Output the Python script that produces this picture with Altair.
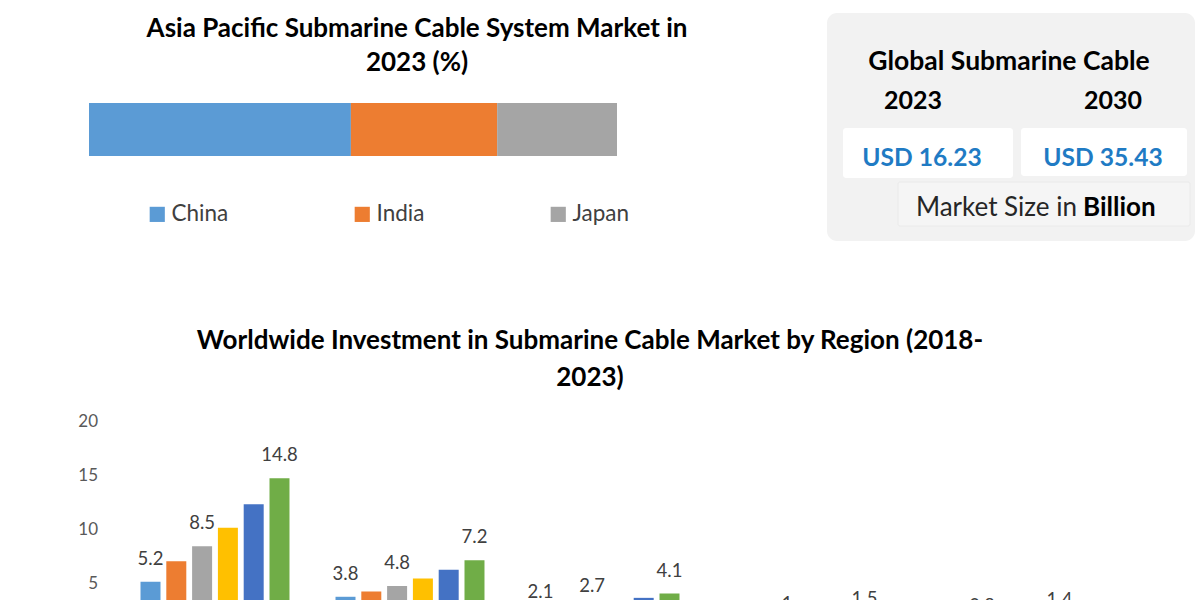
import altair as alt
import pandas as pd

FONT = "Lato"

# ---------------- data ----------------
apac_countries = ["China", "India", "Japan"]
apac_share = [49.6, 27.7, 22.7]

box_years = ["2023", "2030"]
box_values = [16.23, 35.43]

regions = ["Asia Pacific", "North America", "Europe", "Middle East & Africa", "Latin America"]
years = ["2018", "2019", "2020", "2021", "2022", "2023"]
inv_asia_pacific = [5.2, 7.1, 8.5, 10.2, 12.4, 14.8]
inv_north_america = [3.8, 4.3, 4.8, 5.5, 6.3, 7.2]
inv_europe = [2.1, 2.4, 2.7, 3.2, 3.7, 4.1]
inv_mea = [0.6, 0.8, 1.0, 1.1, 1.3, 1.5]
inv_latam = [0.6, 0.7, 0.8, 1.0, 1.2, 1.4]
labeled_years = ["2018", "2020", "2023"]
y_ticks = [0, 5, 10, 15, 20]

year_colors = ["#5B9BD5", "#ED7D31", "#A5A5A5", "#FFC000", "#4472C4", "#70AD47"]
country_colors = ["#5B9BD5", "#ED7D31", "#A5A5A5"]

# ---------------- tables ----------------
share_df = pd.DataFrame({"country": apac_countries, "share": apac_share,
                         "idx": list(range(len(apac_countries)))})

rows = []
for reg, vals in zip(regions, [inv_asia_pacific, inv_north_america, inv_europe, inv_mea, inv_latam]):
    for yr, v in zip(years, vals):
        rows.append({"region": reg, "year": yr, "value": v})
inv_df = pd.DataFrame(rows)
tick_df = pd.DataFrame({"tick": y_ticks})


def txt(s, x, y, size, weight="normal", color="#000000", align="center"):
    return alt.Chart(alt.Data(values=[{"t": s}])).mark_text(
        font=FONT, fontSize=size, fontWeight=weight, color=color,
        align=align, baseline="alphabetic"
    ).encode(x=alt.value(x), y=alt.value(y), text="t:N")


def box(x, x2, y, y2, fill, radius=0, stroke=None):
    kw = dict(fill=fill, cornerRadius=radius)
    if stroke:
        kw.update(stroke=stroke, strokeWidth=1)
    return alt.Chart(alt.Data(values=[{"a": 1}])).mark_rect(**kw).encode(
        x=alt.value(x), x2=alt.value(x2), y=alt.value(y), y2=alt.value(y2))


# ---------------- top-left stacked bar ----------------
top_bar = alt.Chart(share_df).transform_calculate(grp="'2023'").mark_bar().encode(
    x=alt.X("share:Q", stack="zero",
            scale=alt.Scale(domain=[0, 100], range=[89, 617], nice=False), axis=None),
    y=alt.Y("grp:N", scale=alt.Scale(range=[103, 156], paddingInner=0, paddingOuter=0), axis=None),
    color=alt.Color("country:N",
                    scale=alt.Scale(domain=apac_countries, range=country_colors),
                    sort=apac_countries,
                    legend=alt.Legend(orient="none", legendX=146, legendY=203,
                                      direction="horizontal", title=None,
                                      symbolType="square", symbolSize=230,
                                      symbolStrokeWidth=0, labelFont=FONT,
                                      labelFontSize=22.5, labelColor="#404040",
                                      labelOffset=3, columnPadding=122)),
    order=alt.Order("idx:Q"),
)

top_title1 = txt("Asia Pacific Submarine Cable System Market in", 417, 37, 26, "bold")
top_title2 = txt("2023 (%)", 417, 71, 26, "bold")

# ---------------- right info box ----------------
info = [
    box(827, 1195, 13, 241, "#F2F2F2", radius=10),
    box(843, 1013, 128, 178, "#FFFFFF", radius=3),
    box(1021, 1187, 128, 176, "#FFFFFF", radius=3),
    box(898, 1190, 182, 226, "#F5F5F5", radius=2, stroke="#EAEAEA"),
    txt("Global Submarine Cable", 1009, 70, 26.5, "bold"),
    txt(box_years[0], 913, 109, 25, "bold"),
    txt(box_years[1], 1113, 109, 25, "bold"),
    txt(f"USD {box_values[0]:.2f}", 922, 166, 24.6, "bold", "#1F7BC4"),
    txt(f"USD {box_values[1]:.2f}", 1103, 166, 24.6, "bold", "#1F7BC4"),
    txt("Market Size in", 1077, 216, 26, "normal", "#262626", align="right"),
    txt("Billion", 1083, 216, 26, "bold", "#000000", align="left"),
]

# ---------------- bottom grouped bars ----------------
x_sc = alt.Scale(domain=regions, range=[117.5, 1092.5], paddingInner=0.236, paddingOuter=0.118)
xo_sc = alt.Scale(domain=years, paddingInner=0.225, paddingOuter=0)
y_sc = alt.Scale(domain=[0, 20], range=[637.7, 422.3], nice=False)

base = alt.Chart(inv_df)
bars = base.mark_bar(clip=True).encode(
    x=alt.X("region:N", scale=x_sc, sort=regions, axis=None),
    xOffset=alt.XOffset("year:N", scale=xo_sc, sort=years),
    y=alt.Y("value:Q", scale=y_sc, axis=None),
    color=alt.Color("year:N", scale=alt.Scale(domain=years, range=year_colors), legend=None),
)
bar_labels = base.transform_filter(
    alt.FieldOneOfPredicate(field="year", oneOf=labeled_years)
).mark_text(font=FONT, fontSize=18.5, color="#404040", baseline="alphabetic", dy=-17, clip=True).encode(
    x=alt.X("region:N", scale=x_sc, sort=regions, axis=None),
    xOffset=alt.XOffset("year:N", scale=xo_sc, sort=years),
    y=alt.Y("value:Q", scale=y_sc, axis=None),
    text=alt.Text("value:Q", format=".1~f"),
)
tick_labels = alt.Chart(tick_df).transform_filter("datum.tick > 0").mark_text(
    font=FONT, fontSize=17, color="#595959", align="right", baseline="middle"
).encode(
    x=alt.value(98),
    y=alt.Y("tick:Q", scale=y_sc, axis=None),
    text=alt.Text("tick:Q"),
)
bottom = alt.layer(bars, bar_labels, tick_labels)

bot_title1 = txt("Worldwide Investment in Submarine Cable Market by Region (2018-", 590, 349, 26, "bold")
bot_title2 = txt("2023)", 590, 386, 26, "bold")

chart = alt.layer(
    *info, top_bar, top_title1, top_title2, bottom, bot_title1, bot_title2
).resolve_scale(
    x="independent", y="independent", color="independent"
).properties(
    width=1200, height=600, padding=0, autosize="none", background="white"
).configure_view(stroke=None)

chart.save("out.html", embed_options={"renderer": "svg", "actions": False})
